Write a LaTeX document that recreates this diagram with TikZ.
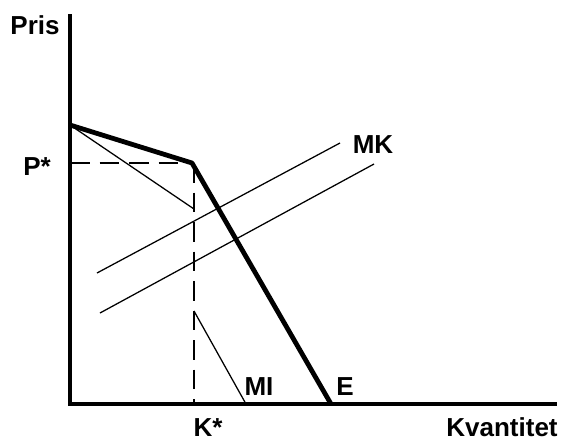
\documentclass[tikz,border=0pt]{standalone}
\usepackage{fontspec}
\setsansfont{Liberation Sans}
\usepackage{tikz}
\usetikzlibrary{positioning, calc}

\begin{document}
\begin{tikzpicture}[x=0.025cm, y=-0.025cm,
  axis/.style={line width=2.6pt, draw=black},
  demand/.style={line width=3.4pt, draw=black, line join=round},
  curve/.style={line width=0.9pt, draw=black},
  guide/.style={line width=1.3pt, draw=black, dash pattern=on 14pt off 7pt},
  lbl/.style={font=\sffamily\bfseries\fontsize{18.5}{20}\selectfont, inner sep=0pt, anchor=base}
]
\useasboundingbox (0,0) rectangle (564,441);
% punkter
\coordinate (o) at (70,404);
\coordinate (ytop) at (70,14);
\coordinate (xend) at (557,404);
\coordinate (a) at (70,125);
\coordinate (kink) at (192,163);
\coordinate (e) at (331,404);
\coordinate (pstar) at (70,163);
\coordinate (kstar) at (194,404);
\coordinate (miu) at (194,209);
\coordinate (mil) at (194,311);
\coordinate (mi) at (246,404);
\coordinate (mk1a) at (97,273);
\coordinate (mk1b) at (340,143);
\coordinate (mk2a) at (100,313);
\coordinate (mk2b) at (374,164);
% akser
\draw[axis] (ytop) -- (o) -- (xend);
% hjaelpelinjer
\draw[guide] (pstar) -- (kink);
\draw[guide] (kink -| kstar) -- (kstar);
% MI
\draw[curve] (a) -- (miu);
\draw[curve] (mil) -- (mi);
% MK
\draw[curve] (mk1a) -- (mk1b);
\draw[curve] (mk2a) -- (mk2b);
% efterspoergsel
\draw[demand] (a) -- (kink) -- (e);
% tekster
\node[lbl] (pris) at (35,34) {Pris};
\node[lbl] (plbl) at (37,175) {P*};
\node[lbl] (klbl) at (208,436) {K*};
\node[lbl] (mklbl) at (373,153) {MK};
\node[lbl] (milbl) at (259,395) {MI};
\node[lbl] (elbl) at (345,395) {E};
\node[lbl] (kvant) at (502,436) {Kvantitet};
\end{tikzpicture}
\end{document}
